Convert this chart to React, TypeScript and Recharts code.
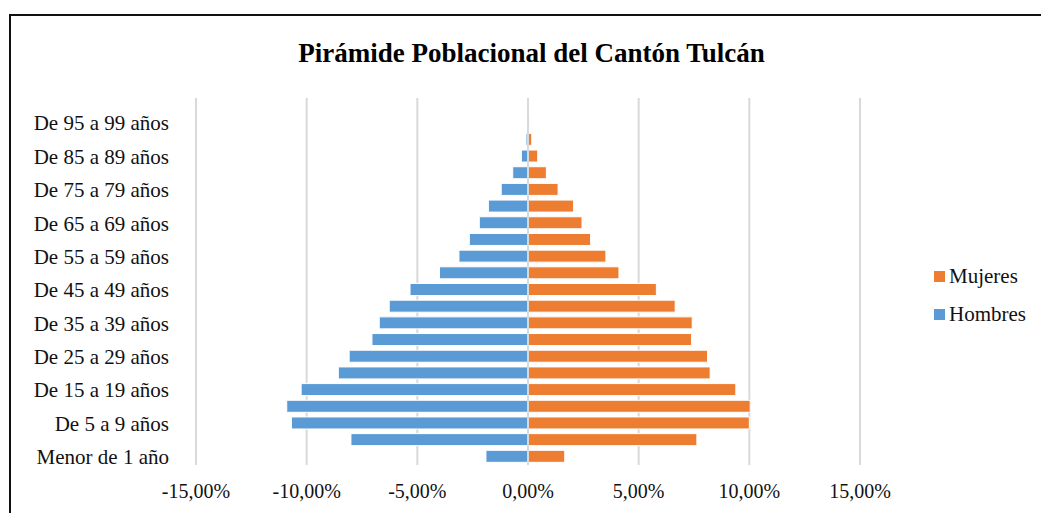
import {
  BarChart,
  Bar,
  XAxis,
  YAxis,
  CartesianGrid,
  Legend,
  ReferenceLine,
} from "recharts"

// Age groups, bottom to top of the pyramid.
const grupos = [
  "Menor de 1 año",
  "De 1 a 4 años",
  "De 5 a 9 años",
  "De 10 a 14 años",
  "De 15 a 19 años",
  "De 20 a 24 años",
  "De 25 a 29 años",
  "De 30 a 34 años",
  "De 35 a 39 años",
  "De 40 a 44 años",
  "De 45 a 49 años",
  "De 50 a 54 años",
  "De 55 a 59 años",
  "De 60 a 64 años",
  "De 65 a 69 años",
  "De 70 a 74 años",
  "De 75 a 79 años",
  "De 80 a 84 años",
  "De 85 a 89 años",
  "De 90 a 94 años",
  "De 95 a 99 años",
  "De 100 años y más",
]

// Share of total population (%), men drawn to the left as negatives.
const hombres = [
  -1.9, -8.0, -10.69, -10.9, -10.25, -8.57, -8.08, -7.05, -6.72, -6.27, -5.33,
  -4.0, -3.12, -2.65, -2.2, -1.79, -1.21, -0.69, -0.3, -0.09, -0.02, -0.01,
]
const mujeres = [
  1.66, 7.63, 10.0, 10.04, 9.39, 8.23, 8.11, 7.39, 7.42, 6.65, 5.8, 4.11, 3.52,
  2.83, 2.44, 2.06, 1.36, 0.83, 0.44, 0.17, 0.05, 0.01,
]

const xTicks = [-15, -10, -5, 0, 5, 10, 15]

const data = grupos.map((grupo, i) => ({
  grupo,
  hombres: hombres[i],
  mujeres: mujeres[i],
}))

const AZUL = "#5B9BD5"
const NARANJA = "#ED7D31"
const FONT = "'Liberation Serif', 'Times New Roman', serif"

const fmtPct = (v: number) => v.toFixed(2).replace(".", ",") + "%"

// Excel-style legend: Mujeres above Hombres.
function Leyenda() {
  const items = [
    { label: "Mujeres", color: NARANJA },
    { label: "Hombres", color: AZUL },
  ]
  return (
    <div style={{ fontFamily: FONT, fontSize: 21, color: "#111" }}>
      {items.map((it) => (
        <div
          key={it.label}
          style={{ display: "flex", alignItems: "center", height: 38 }}
        >
          <span
            style={{
              display: "inline-block",
              width: 11,
              height: 11,
              background: it.color,
              marginRight: 4,
            }}
          />
          {it.label}
        </div>
      ))}
    </div>
  )
}

export default function App() {
  return (
    <div
      style={{
        position: "absolute",
        left: 0,
        top: 0,
        width: 1041,
        height: 513,
        overflow: "hidden",
        background: "#fff",
      }}
    >
      {/* chart frame, cut off by the screenshot on right and bottom */}
      <div
        style={{
          position: "absolute",
          left: 9,
          top: 14,
          width: 1100,
          height: 600,
          border: "2px solid #111",
        }}
      />
      <div
        style={{
          position: "absolute",
          left: 0,
          width: 1063,
          top: 38,
          textAlign: "center",
          fontFamily: FONT,
          fontWeight: "bold",
          fontSize: 27,
          lineHeight: "30px",
          color: "#000",
        }}
      >
        Pirámide Poblacional del Cantón Tulcán
      </div>
      <div style={{ position: "absolute", left: 0, top: 0 }}>
        <BarChart
          width={1041}
          height={513}
          data={data}
          layout="vertical"
          stackOffset="sign"
          barSize={12}
          margin={{ top: 98, right: 181, bottom: 0, left: 0 }}
        >
          <CartesianGrid
            horizontal={false}
            stroke="#d9d9d9"
            strokeWidth={2}
          />
          <XAxis
            type="number"
            domain={[-15, 15]}
            ticks={xTicks}
            tickFormatter={fmtPct}
            axisLine={false}
            tickLine={false}
            tickSize={0}
            tickMargin={19}
            height={48}
            tick={{ fontFamily: FONT, fontSize: 20, fill: "#111" }}
          />
          <YAxis
            type="category"
            dataKey="grupo"
            reversed
            interval={1}
            width={196}
            axisLine={false}
            tickLine={false}
            tickSize={0}
            tickMargin={27}
            tick={{ fontFamily: FONT, fontSize: 21, fill: "#111" }}
          />
          <Legend
            layout="vertical"
            align="center"
            verticalAlign="middle"
            content={() => <Leyenda />}
            wrapperStyle={{ left: 934, top: 257, width: 100 }}
          />
          <Bar
            dataKey="hombres"
            name="Hombres"
            stackId="p"
            fill={AZUL}
            stroke="#fff"
            strokeWidth={1}
            isAnimationActive={false}
          />
          <Bar
            dataKey="mujeres"
            name="Mujeres"
            stackId="p"
            fill={NARANJA}
            stroke="#fff"
            strokeWidth={1}
            isAnimationActive={false}
          />
          <ReferenceLine x={0} stroke="#d9d9d9" strokeWidth={2} />
        </BarChart>
      </div>
    </div>
  )
}
